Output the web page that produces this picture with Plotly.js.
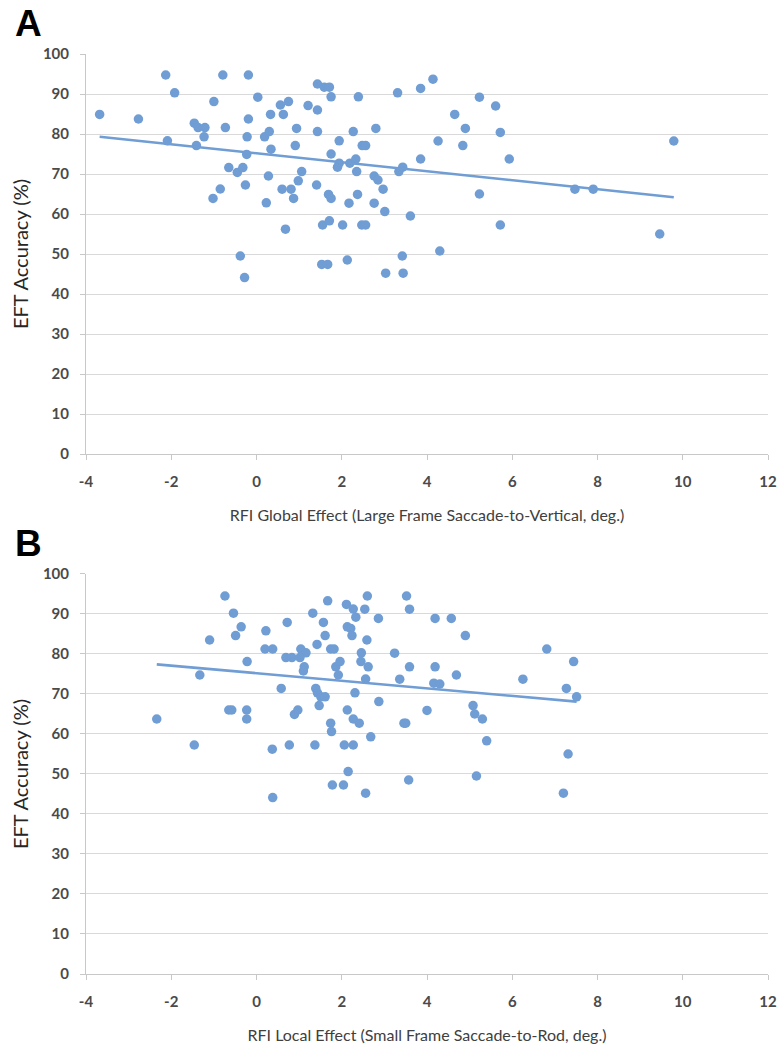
<!DOCTYPE html>
<html>
<head>
<meta charset="utf-8">
<script src="https://cdn.plot.ly/plotly-3.0.1.min.js"></script>
<style>
  html, body { margin: 0; padding: 0; background: #ffffff; }
  #chart { width: 778px; height: 1053px; }
</style>
</head>
<body>
<div id="chart"></div>
<script>
// ---- Data ----
const panelLabels = ['A', 'B'];
const xTitleA = 'RFI Global Effect (Large Frame Saccade-to-Vertical, deg.)';
const xTitleB = 'RFI Local Effect (Small Frame Saccade-to-Rod, deg.)';
const yTitle = 'EFT Accuracy (%)';
const xTickVals = [-4, -2, 0, 2, 4, 6, 8, 10, 12];
const xTickText = ['-4', '-2', '0', '2', '4', '6', '8', '10', '12'];
const yTickVals = [0, 10, 20, 30, 40, 50, 60, 70, 80, 90, 100];

// Panel A: RFI Global Effect vs EFT Accuracy
const xA = [-3.68, -2.77, -2.13, -1.92, -2.09, -1.46, -1.37, -1.21, -1.23, -1.41,
            -1.00, -0.79, -0.73, -0.19, -0.19, -0.22, -0.23, -0.65, -0.45, -0.32,
            -0.26, -0.85, -1.02, -0.38, -0.28, 0.03, 0.33, 0.19, 0.30, 0.34,
            0.28, 0.23, 0.56, 0.75, 0.63, 0.60, 0.81, 0.68, 0.87, 0.94,
            0.91, 1.06, 0.98, 1.21, 1.43, 1.43, 1.59, 1.71, 1.75, 1.43,
            1.41, 1.75, 1.94, 1.94, 1.90, 1.69, 1.75, 1.55, 1.71, 1.53,
            1.67, 2.02, 2.13, 2.19, 2.33, 2.35, 2.27, 2.39, 2.37, 2.17,
            2.48, 2.56, 2.47, 2.56, 2.80, 2.76, 2.85, 2.97, 2.76, 3.01,
            3.03, 3.31, 3.34, 3.43, 3.42, 3.44, 3.61, 3.85, 3.85, 4.14,
            4.26, 4.30, 4.65, 4.90, 4.84, 5.23, 5.61, 5.72, 5.93, 5.23,
            5.72, 7.47, 7.90, 9.46, 9.79];
const yA = [84.9, 83.75, 94.75, 90.3, 78.3, 82.7, 81.6, 81.6, 79.3, 77.1,
            88.1, 94.75, 81.6, 94.75, 83.75, 79.3, 74.9, 71.6, 70.4, 71.6,
            67.25, 66.25, 63.9, 49.5, 44.1, 89.2, 84.9, 79.3, 80.6, 76.2,
            69.5, 62.8, 87.25, 88.1, 84.9, 66.2, 66.2, 56.2, 63.9, 81.4,
            77.1, 70.6, 68.3, 87.1, 86.0, 92.5, 91.7, 91.7, 89.3, 80.6,
            67.25, 75.0, 78.3, 72.7, 71.7, 64.9, 63.9, 57.25, 58.3, 47.4,
            47.4, 57.25, 48.5, 72.7, 73.75, 70.6, 80.6, 89.3, 64.9, 62.7,
            77.1, 77.1, 57.25, 57.25, 81.4, 69.5, 68.5, 66.2, 62.7, 60.6,
            45.2, 90.3, 70.6, 71.7, 49.5, 45.2, 59.5, 91.4, 73.75, 93.7,
            78.25, 50.75, 84.9, 81.4, 77.1, 89.2, 87.0, 80.4, 73.75, 65.0,
            57.25, 66.2, 66.2, 55.0, 78.25];
// Linear trendline of panel A (end points)
const trendAx = [-3.68, 9.79];
const trendAy = [79.3, 64.2];

// Panel B: RFI Local Effect vs EFT Accuracy
const xB = [-2.34, -1.46, -1.33, -1.10, -0.74, -0.54, -0.36, -0.49, -0.22, -0.65,
            -0.58, -0.23, -0.23, 0.38, 0.37, 0.22, 0.20, 0.38, 0.58, 0.72,
            0.69, 0.83, 0.77, 0.89, 0.97, 1.04, 1.16, 1.02, 1.12, 1.10,
            1.32, 1.37, 1.42, 1.39, 1.43, 1.51, 1.61, 1.47, 1.57, 1.67,
            1.61, 1.74, 1.82, 1.74, 1.76, 1.86, 1.96, 1.92, 1.78, 2.04,
            2.06, 2.27, 2.15, 2.11, 2.27, 2.33, 2.13, 2.21, 2.24, 2.13,
            2.31, 2.27, 2.41, 2.46, 2.45, 2.56, 2.56, 2.60, 2.54, 2.59,
            2.62, 2.68, 2.86, 2.87, 3.52, 3.59, 3.24, 3.59, 3.36, 3.46,
            3.50, 3.57, 4.00, 4.19, 4.57, 4.19, 4.16, 4.30, 4.69, 4.90,
            5.08, 5.12, 5.30, 5.40, 5.16, 6.25, 6.81, 7.44, 7.27, 7.51,
            7.31, 7.20];
const yB = [63.75, 57.25, 74.75, 83.5, 94.5, 90.2, 86.8, 84.6, 78.1, 66.0,
            66.0, 66.0, 63.75, 44.1, 56.2, 85.8, 81.25, 81.25, 71.4, 87.9,
            79.1, 79.1, 57.25, 64.9, 66.0, 81.25, 80.3, 79.1, 76.8, 75.75,
            90.2, 57.25, 82.4, 71.4, 70.3, 69.3, 69.3, 67.1, 87.9, 93.3,
            84.6, 81.25, 81.25, 62.7, 60.6, 76.8, 78.1, 74.75, 47.25, 47.25,
            57.25, 57.25, 50.6, 92.4, 91.25, 89.2, 86.8, 86.4, 84.6, 66.0,
            70.3, 63.75, 62.7, 80.3, 78.1, 73.75, 45.2, 94.5, 91.2, 83.5,
            76.8, 59.3, 88.9, 68.1, 94.5, 91.2, 80.2, 76.8, 73.7, 62.7,
            62.7, 48.5, 65.9, 88.9, 88.9, 76.8, 72.7, 72.5, 74.75, 84.6,
            67.1, 65.0, 63.75, 58.3, 49.5, 73.7, 81.25, 78.1, 71.4, 69.3,
            55.0, 45.2];
// Linear trendline of panel B (end points)
const trendBx = [-2.34, 7.51];
const trendBy = [77.4, 68.1];

const dotColor = '#6f9dd4';
const font = 'Lato, "Open Sans", "DejaVu Sans", sans-serif';

const traces = [
  { x: xA, y: yA, xaxis: 'x', yaxis: 'y', type: 'scatter', mode: 'markers',
    marker: { color: dotColor, size: 9.5 } },
  { x: trendAx, y: trendAy, xaxis: 'x', yaxis: 'y', type: 'scatter', mode: 'lines',
    line: { color: dotColor, width: 2.6 } },
  { x: xB, y: yB, xaxis: 'x2', yaxis: 'y2', type: 'scatter', mode: 'markers',
    marker: { color: dotColor, size: 9.5 } },
  { x: trendBx, y: trendBy, xaxis: 'x2', yaxis: 'y2', type: 'scatter', mode: 'lines',
    line: { color: dotColor, width: 2.6 } }
];

const tickFont = { family: font, size: 15, color: '#4a4a4a', weight: 'bold' };
const yTitleFont = { family: font, size: 20, color: '#262626' };
const xTitleFont = { family: font, size: 16, color: '#404040' };

function xAxis(title, anchor) {
  return {
    anchor: anchor, range: [-4, 12], tickmode: 'array', tickvals: xTickVals, ticktext: xTickText,
    showgrid: false, zeroline: false, showline: true, linecolor: '#c8c8c8', linewidth: 1,
    ticks: 'outside', ticklen: 5, tickcolor: '#c8c8c8', tickfont: tickFont,
    ticklabelstandoff: 9, ticklabeloverflow: 'allow',
    title: { text: title, font: xTitleFont, standoff: 20 }, fixedrange: true
  };
}
function yAxis(domain, anchor) {
  return {
    anchor: anchor, domain: domain, range: [0, 100], tickmode: 'array', tickvals: yTickVals,
    showgrid: true, gridcolor: '#d9d9d9', gridwidth: 1, zeroline: false,
    showline: true, linecolor: '#c8c8c8', linewidth: 1,
    ticks: 'outside', ticklen: 5, tickcolor: '#c8c8c8', tickfont: tickFont,
    ticklabelstandoff: 8,
    title: { text: yTitle, font: yTitleFont, standoff: 8 }, fixedrange: true
  };
}

const labelFont = { family: 'Liberation Sans, Arial, sans-serif', size: 37, color: '#000000', weight: 'bold' };

const layout = {
  width: 778, height: 1053,
  margin: { l: 86, r: 10, t: 54, b: 79 },
  paper_bgcolor: '#ffffff', plot_bgcolor: '#ffffff',
  showlegend: false,
  xaxis: xAxis(xTitleA, 'y'),
  yaxis: yAxis([0.5652, 1], 'x'),
  xaxis2: xAxis(xTitleB, 'y2'),
  yaxis2: yAxis([0, 0.4348], 'x2'),
  annotations: [
    { text: panelLabels[0], xref: 'paper', yref: 'paper', x: -0.0836, y: 1.0332,
      xanchor: 'center', yanchor: 'middle', showarrow: false, font: labelFont },
    { text: panelLabels[1], xref: 'paper', yref: 'paper', x: -0.0836, y: 0.468,
      xanchor: 'center', yanchor: 'middle', showarrow: false, font: labelFont }
  ]
};

Plotly.newPlot('chart', traces, layout, { staticPlot: true, displayModeBar: false });
</script>
</body>
</html>
